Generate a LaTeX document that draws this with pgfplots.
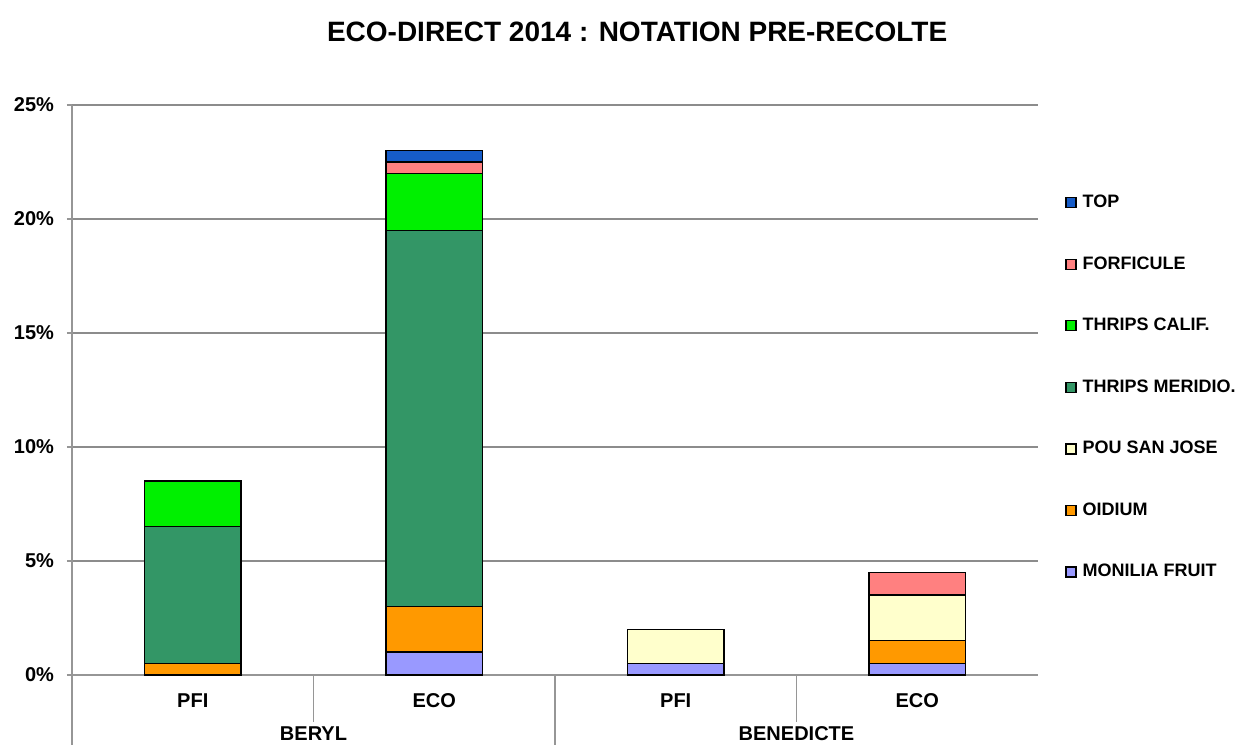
\documentclass[border=0pt]{standalone}
\usepackage{pgfplots}
\pgfplotsset{compat=1.18}
\usepackage{fontspec}
\setmainfont{Liberation Sans}
\definecolor{cTop}{RGB}{22,92,200}
\definecolor{cForf}{RGB}{255,128,128}
\definecolor{cCalif}{RGB}{0,240,0}
\definecolor{cMerid}{RGB}{51,150,102}
\definecolor{cPou}{RGB}{255,255,204}
\definecolor{cOid}{RGB}{255,153,0}
\definecolor{cMon}{RGB}{153,153,255}
\definecolor{gridc}{RGB}{140,140,140}
\definecolor{axc}{RGB}{150,150,150}
\begin{document}
\begin{tikzpicture}[font=\bfseries]
\path[use as bounding box] (-36pt,-35pt) rectangle (589pt,337.5pt);
\begin{axis}[
  at={(0,0)}, anchor=south west,
  scale only axis, width=483pt, height=285pt,
  ybar stacked, bar width=0.4,
  xmin=-0.5, xmax=3.5, ymin=0, ymax=25,
  xtick={0,1,2,3}, xticklabels={PFI,ECO,PFI,ECO},
  major x tick style={draw=none},
  typeset ticklabels with strut,
  ytick={0,5,10,15,20,25},
  yticklabel={\pgfmathprintnumber{\tick}\%},
  /pgf/number format/assume math mode=true,
  ymajorgrids, grid style={gridc, line width=0.7pt},
  axis x line*=bottom, axis y line*=left,
  axis line style={axc, line width=0.8pt, -},
  y tick style={axc, line width=0.8pt}, tick align=outside, major tick length=2.5pt,
  ticklabel style={font=\bfseries\fontsize{10}{12}\selectfont},
  xticklabel style={yshift=-2pt},
  yticklabel style={xshift=-3pt},
  clip=false,
  every axis plot/.append style={draw=black, line width=0.7pt},
  reverse legend,
  legend cell align=left,
  legend style={draw=none, fill=none, at={(1.028,0.85)}, anchor=north west,
    font=\bfseries\fontsize{9}{11}\selectfont, row sep=19pt, inner sep=0pt,
    /tikz/every odd column/.append style={column sep=1pt}},
  legend image code/.code={\draw[#1, line width=0.6pt] (0pt,-2.5pt) rectangle (5pt,2.5pt);},
]
\addplot[fill=cMon] coordinates {(0,0) (1,1.0) (2,0.5) (3,0.5)};
\addlegendentry{MONILIA FRUIT}
\addplot[fill=cOid] coordinates {(0,0.5) (1,2.0) (2,0) (3,1.0)};
\addlegendentry{OIDIUM}
\addplot[fill=cPou] coordinates {(0,0) (1,0) (2,1.5) (3,2.0)};
\addlegendentry{POU SAN JOSE}
\addplot[fill=cMerid] coordinates {(0,6.0) (1,16.5) (2,0) (3,0)};
\addlegendentry{THRIPS MERIDIO.}
\addplot[fill=cCalif] coordinates {(0,2.0) (1,2.5) (2,0) (3,0)};
\addlegendentry{THRIPS CALIF.}
\addplot[fill=cForf] coordinates {(0,0) (1,0.5) (2,0) (3,1.0)};
\addlegendentry{FORFICULE}
\addplot[fill=cTop] coordinates {(0,0) (1,0.5) (2,0) (3,0)};
\addlegendentry{TOP}
\draw[axc, line width=0.8pt] (axis cs:-0.5,0) -- ++(0pt,-36pt);
\draw[axc, line width=0.8pt] (axis cs:1.5,0) -- ++(0pt,-36pt);
\draw[axc, line width=0.6pt] (axis cs:0.5,0) -- ++(0pt,-23.5pt);
\draw[axc, line width=0.6pt] (axis cs:2.5,0) -- ++(0pt,-23.5pt);
\node[font=\bfseries\fontsize{10}{12}\selectfont] at ([yshift=-29.5pt]axis cs:0.5,0) {BERYL};
\node[font=\bfseries\fontsize{10}{12}\selectfont] at ([yshift=-29.5pt]axis cs:2.5,0) {BENEDICTE};
\node[font=\bfseries\fontsize{14}{17}\selectfont] at ([yshift=36.5pt]rel axis cs:0.585,1) {ECO-DIRECT 2014 : NOTATION PRE-RECOLTE};
\end{axis}
\end{tikzpicture}
\end{document}
